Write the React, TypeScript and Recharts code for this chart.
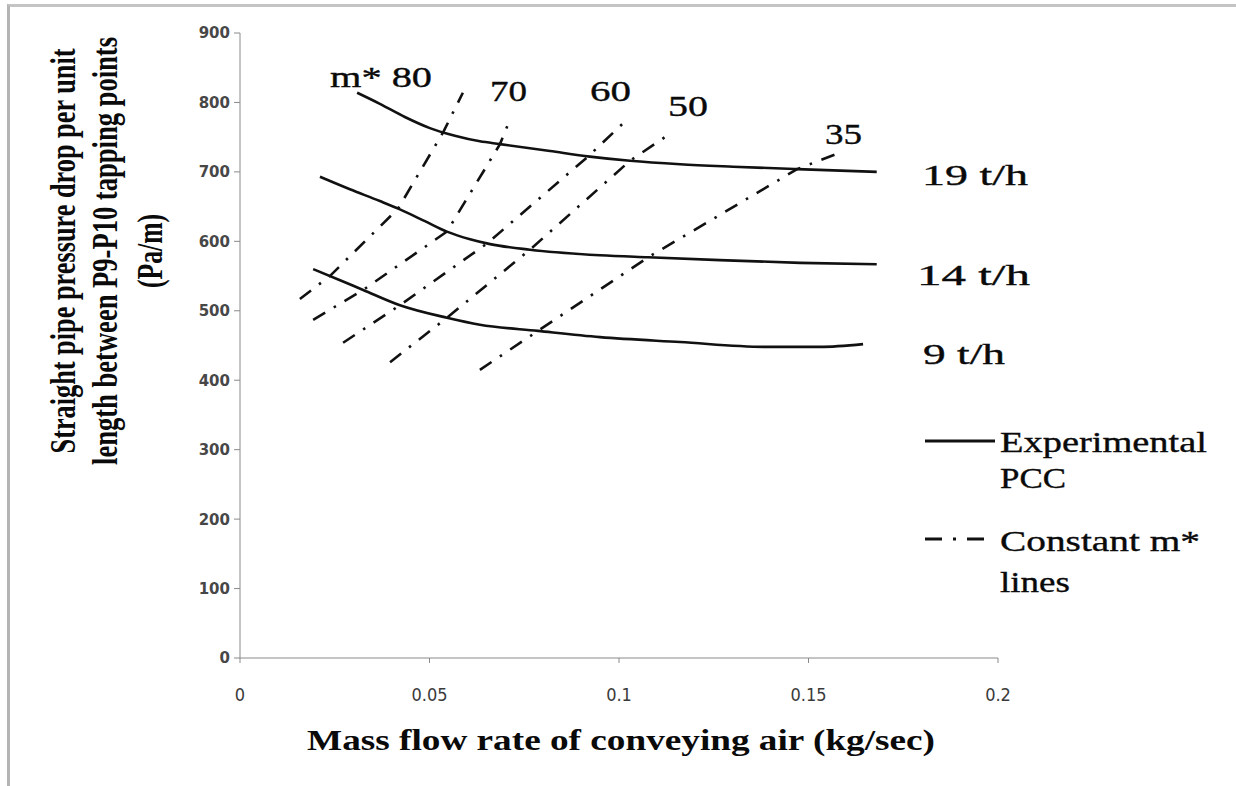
import React from "react";
import { LineChart, Line, XAxis, YAxis } from "recharts";

// x = mass flow rate of air (kg/s), y = pressure drop (Pa/m)
const xTicks = [0, 0.05, 0.1, 0.15, 0.2];
const yTicks = [0, 100, 200, 300, 400, 500, 600, 700, 800, 900];

const pcc19 = [
  [0.0309, 814], [0.0369, 798], [0.0435, 779], [0.0501, 763], [0.0567, 752],
  [0.0633, 744], [0.0686, 740], [0.0818, 730], [0.0923, 722], [0.1029, 716],
  [0.1161, 711], [0.1301, 707.5], [0.147, 704], [0.168, 700],
];
const pcc14 = [
  [0.0211, 693], [0.029, 675], [0.0369, 658], [0.0422, 646], [0.0488, 629],
  [0.0546, 614], [0.0607, 603], [0.066, 596], [0.0765, 588], [0.095, 580],
  [0.1077, 577], [0.1266, 573], [0.1478, 569], [0.168, 567],
];
const pcc9 = [
  [0.0193, 560], [0.0264, 544], [0.0325, 530], [0.0422, 508], [0.0546, 490],
  [0.0633, 480], [0.0786, 471], [0.095, 462], [0.1161, 455], [0.139, 448],
  [0.153, 448], [0.1644, 452],
];

const m80 = [[0.0158, 517], [0.0237, 550], [0.0417, 647], [0.0536, 757], [0.0588, 814]];
const m70 = [[0.0193, 487], [0.0325, 530], [0.0546, 614], [0.0686, 740], [0.0712, 775]];
const m60 = [[0.0272, 454], [0.0422, 508], [0.0652, 597], [0.0918, 722], [0.1011, 770]];
const m50 = [[0.0396, 426], [0.0546, 490], [0.0765, 588], [0.1029, 716], [0.114, 757]];
const m35 = [[0.0633, 415], [0.0786, 471], [0.1077, 577], [0.147, 704], [0.158, 727]];

const pccSeries = [pcc19, pcc14, pcc9];
const mSeries = [m80, m70, m60, m50, m35];

const toPts = (arr: number[][]) => arr.map(([x, y]) => ({ x, y }));

const serif = "'Liberation Serif', 'Times New Roman', serif";

const Txt = ({ x, y, w, size = 29, weight = "normal", children }: any) => (
  <text
    x={x}
    y={y}
    textLength={w}
    lengthAdjust="spacingAndGlyphs"
    fontSize={size}
    fontFamily={serif}
    fontWeight={weight}
    fill="#0a0a0a"
    stroke="#0a0a0a"
    strokeWidth={weight === "bold" ? 0 : 0.35}
  >
    {children}
  </text>
);

const VTitle = ({ cx, len, children }: any) => (
  <g transform={`translate(${cx},251) rotate(-90) scale(1,1.4)`}>
    <text
      textAnchor="middle"
      dy="0.32em"
      textLength={len}
      lengthAdjust="spacingAndGlyphs"
      fontSize={25}
      fontFamily={serif}
      fontWeight="bold"
      fill="#0a0a0a"
    >
      {children}
    </text>
  </g>
);

const YTick = ({ x, y, payload }: any) => (
  <text
    x={x}
    y={y}
    dy="0.36em"
    textAnchor="end"
    fontSize={15}
    fontWeight="bold"
    fontFamily="'DejaVu Sans', sans-serif"
    fill="#474747"
  >
    {payload.value}
  </text>
);

const XTick = ({ x, y, payload }: any) => (
  <text
    x={x}
    y={y}
    dy="0.75em"
    textAnchor="middle"
    fontSize={18}
    fontFamily="'DejaVu Sans Condensed', 'DejaVu Sans', sans-serif"
    fill="#3a3a3a"
  >
    {String(payload.value)}
  </text>
);

export default function App() {
  return (
    <div style={{ position: "absolute", left: 0, top: 0, width: 1236, height: 786, background: "#fff", overflow: "hidden" }}>
      <div
        style={{
          position: "absolute",
          left: 7,
          top: 4,
          width: 1240,
          height: 790,
          borderTop: "3px solid #c4c4c4",
          borderLeft: "3px solid #b4b4b4",
        }}
      />
      <LineChart
        width={1236}
        height={786}
        margin={{ top: 33, right: 238, bottom: 98, left: 180 }}
        style={{ position: "absolute", left: 0, top: 0 }}
      >
        <XAxis
          type="number"
          dataKey="x"
          domain={[0, 0.2]}
          ticks={xTicks}
          height={30}
          stroke="#8a8a8a"
          tickSize={5}
          tickMargin={24}
          tick={<XTick />}
          allowDataOverflow
        />
        <YAxis
          type="number"
          dataKey="y"
          domain={[0, 900]}
          ticks={yTicks}
          width={60}
          stroke="#8a8a8a"
          tickSize={6}
          tickMargin={4}
          tick={<YTick />}
        />
        {pccSeries.map((s, i) => (
          <Line
            key={"p" + i}
            data={toPts(s)}
            dataKey="y"
            type="monotone"
            stroke="#111"
            strokeWidth={2.6}
            dot={false}
            isAnimationActive={false}
          />
        ))}
        {mSeries.map((s, i) => (
          <Line
            key={"m" + i}
            data={toPts(s)}
            dataKey="y"
            type="linear"
            stroke="#111"
            strokeWidth={2.6}
            strokeDasharray="14 10 2.5 10"
            dot={false}
            isAnimationActive={false}
          />
        ))}
      </LineChart>
      <svg
        width={1236}
        height={786}
        style={{ position: "absolute", left: 0, top: 0, pointerEvents: "none" }}
      >
        <VTitle cx={64} len={405}>Straight pipe pressure drop per unit</VTitle>
        <VTitle cx={106} len={428}>length between P9-P10 tapping points</VTitle>
        <VTitle cx={151} len={74}>(Pa/m)</VTitle>

        <Txt x={307} y={750} w={628} size={29} weight="bold">
          Mass flow rate of conveying air (kg/sec)
        </Txt>

        <Txt x={330} y={87} w={102}>m* 80</Txt>
        <Txt x={490} y={101} w={37}>70</Txt>
        <Txt x={590} y={101} w={41}>60</Txt>
        <Txt x={668} y={116} w={40}>50</Txt>
        <Txt x={825} y={144} w={37}>35</Txt>

        <Txt x={922} y={185} w={106}>19 t/h</Txt>
        <Txt x={917} y={285} w={113}>14 t/h</Txt>
        <Txt x={923} y={364} w={82}>9 t/h</Txt>

        <line x1={925} y1={441} x2={995} y2={441} stroke="#111" strokeWidth={3} />
        <Txt x={1000} y={452} w={207}>Experimental</Txt>
        <Txt x={1000} y={488} w={66}>PCC</Txt>
        <line x1={925} y1={539} x2={987} y2={539} stroke="#111" strokeWidth={3} strokeDasharray="17 11 3 11" />
        <Txt x={1000} y={551} w={200}>Constant m*</Txt>
        <Txt x={1000} y={592} w={70}>lines</Txt>
      </svg>
    </div>
  );
}
